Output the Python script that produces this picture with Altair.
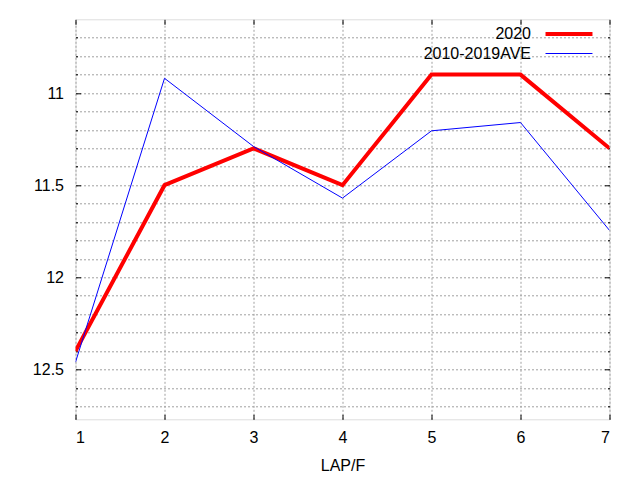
import altair as alt
import pandas as pd

laps = [1, 2, 3, 4, 5, 6, 7]
series_2020 = [12.40, 11.50, 11.30, 11.50, 10.90, 10.90, 11.30]
series_ave = [12.46, 10.92, 11.29, 11.57, 11.205, 11.16, 11.745]
series_names = ["2020", "2010-2019AVE"]
series_colors = ["#ff0000", "#0000ff"]
series_widths = [4, 1]
y_grid_values = [10.7, 10.8, 10.9, 11.0, 11.1, 11.2, 11.3, 11.4, 11.5, 11.6, 11.7,
                 11.8, 11.9, 12.0, 12.1, 12.2, 12.3, 12.4, 12.5, 12.6, 12.7]
x_tick_values = [1, 2, 3, 4, 5, 6, 7]

rows = []
for name, vals in zip(series_names, [series_2020, series_ave]):
    for lap, v in zip(laps, vals):
        rows.append({"lap": lap, "time": v, "series": name})
df = pd.DataFrame(rows)

FONT = "Liberation Sans"
MAJOR = "abs(datum.value*2 - round(datum.value*2)) < 0.001"
x_scale = alt.Scale(domain=[1, 7], nice=False, zero=False)
y_scale = alt.Scale(domain=[10.6, 12.77], reverse=True, nice=False, zero=False)
grid_style = dict(gridDash=[2, 2], gridColor="#a0a0a0", gridWidth=1)

lines = alt.Chart(df).mark_line(clip=True).encode(
    x=alt.X("lap:Q", scale=x_scale,
            axis=alt.Axis(values=x_tick_values, title="LAP/F", grid=True, **grid_style,
                          ticks=True, tickSize={"expr": "-5"}, tickColor="#000000",
                          domain=False, labelPadding=15,
                          labelFontSize=16, labelFont=FONT, labelColor="#000000",
                          titleFontSize=16, titleFont=FONT, titleFontWeight="normal",
                          titleColor="#000000", titlePadding=12, format="d")),
    y=alt.Y("time:Q", scale=y_scale,
            axis=alt.Axis(values=y_grid_values, title=None, grid=True, **grid_style,
                          ticks=True, tickColor="#000000",
                          tickSize={"expr": f"{MAJOR} ? -5 : -2"},
                          domain=False, labelPadding=17,
                          labelFontSize=16, labelFont=FONT, labelColor="#000000",
                          labelExpr=f"{MAJOR} ? format(datum.value, '~g') : ''")),
    color=alt.Color("series:N",
                    scale=alt.Scale(domain=series_names, range=series_colors),
                    legend=alt.Legend(title=None, orient="none", legendX=483.5, legendY=4.7,
                                      symbolType="M-3,0H3", symbolSize=245,
                                      symbolStrokeWidth=3,
                                      labelAlign="right", labelOffset={"expr": "-48"},
                                      labelFontSize=16, labelFont=FONT, labelColor="#000000",
                                      rowPadding=3)),
    strokeWidth=alt.StrokeWidth("series:N",
                                scale=alt.Scale(domain=series_names, range=series_widths),
                                legend=None),
    detail="series:N",
)

mirror = alt.Chart(df).mark_point(opacity=0).encode(
    x=alt.X("lap:Q", scale=x_scale,
            axis=alt.Axis(orient="top", values=x_tick_values, title=None, grid=False,
                          labels=False, ticks=True, tickSize={"expr": "-5"},
                          tickColor="#000000", domain=False)),
    y=alt.Y("time:Q", scale=y_scale,
            axis=alt.Axis(orient="right", values=y_grid_values, title=None, grid=False,
                          labels=False, ticks=True, tickColor="#000000",
                          tickSize={"expr": f"{MAJOR} ? -5 : -2"}, domain=False)),
)

chart = alt.layer(lines, mirror).resolve_axis(
    x="independent", y="independent"
).properties(
    width=534, height=400,
    autosize="none",
    padding={"left": 67.5, "top": 11.3, "right": 22.5, "bottom": 60.7},
).configure_view(
    stroke="#000000", strokeWidth=1
).configure(background="#ffffff")

chart.save("out.html", embed_options={"renderer": "svg", "actions": False})
